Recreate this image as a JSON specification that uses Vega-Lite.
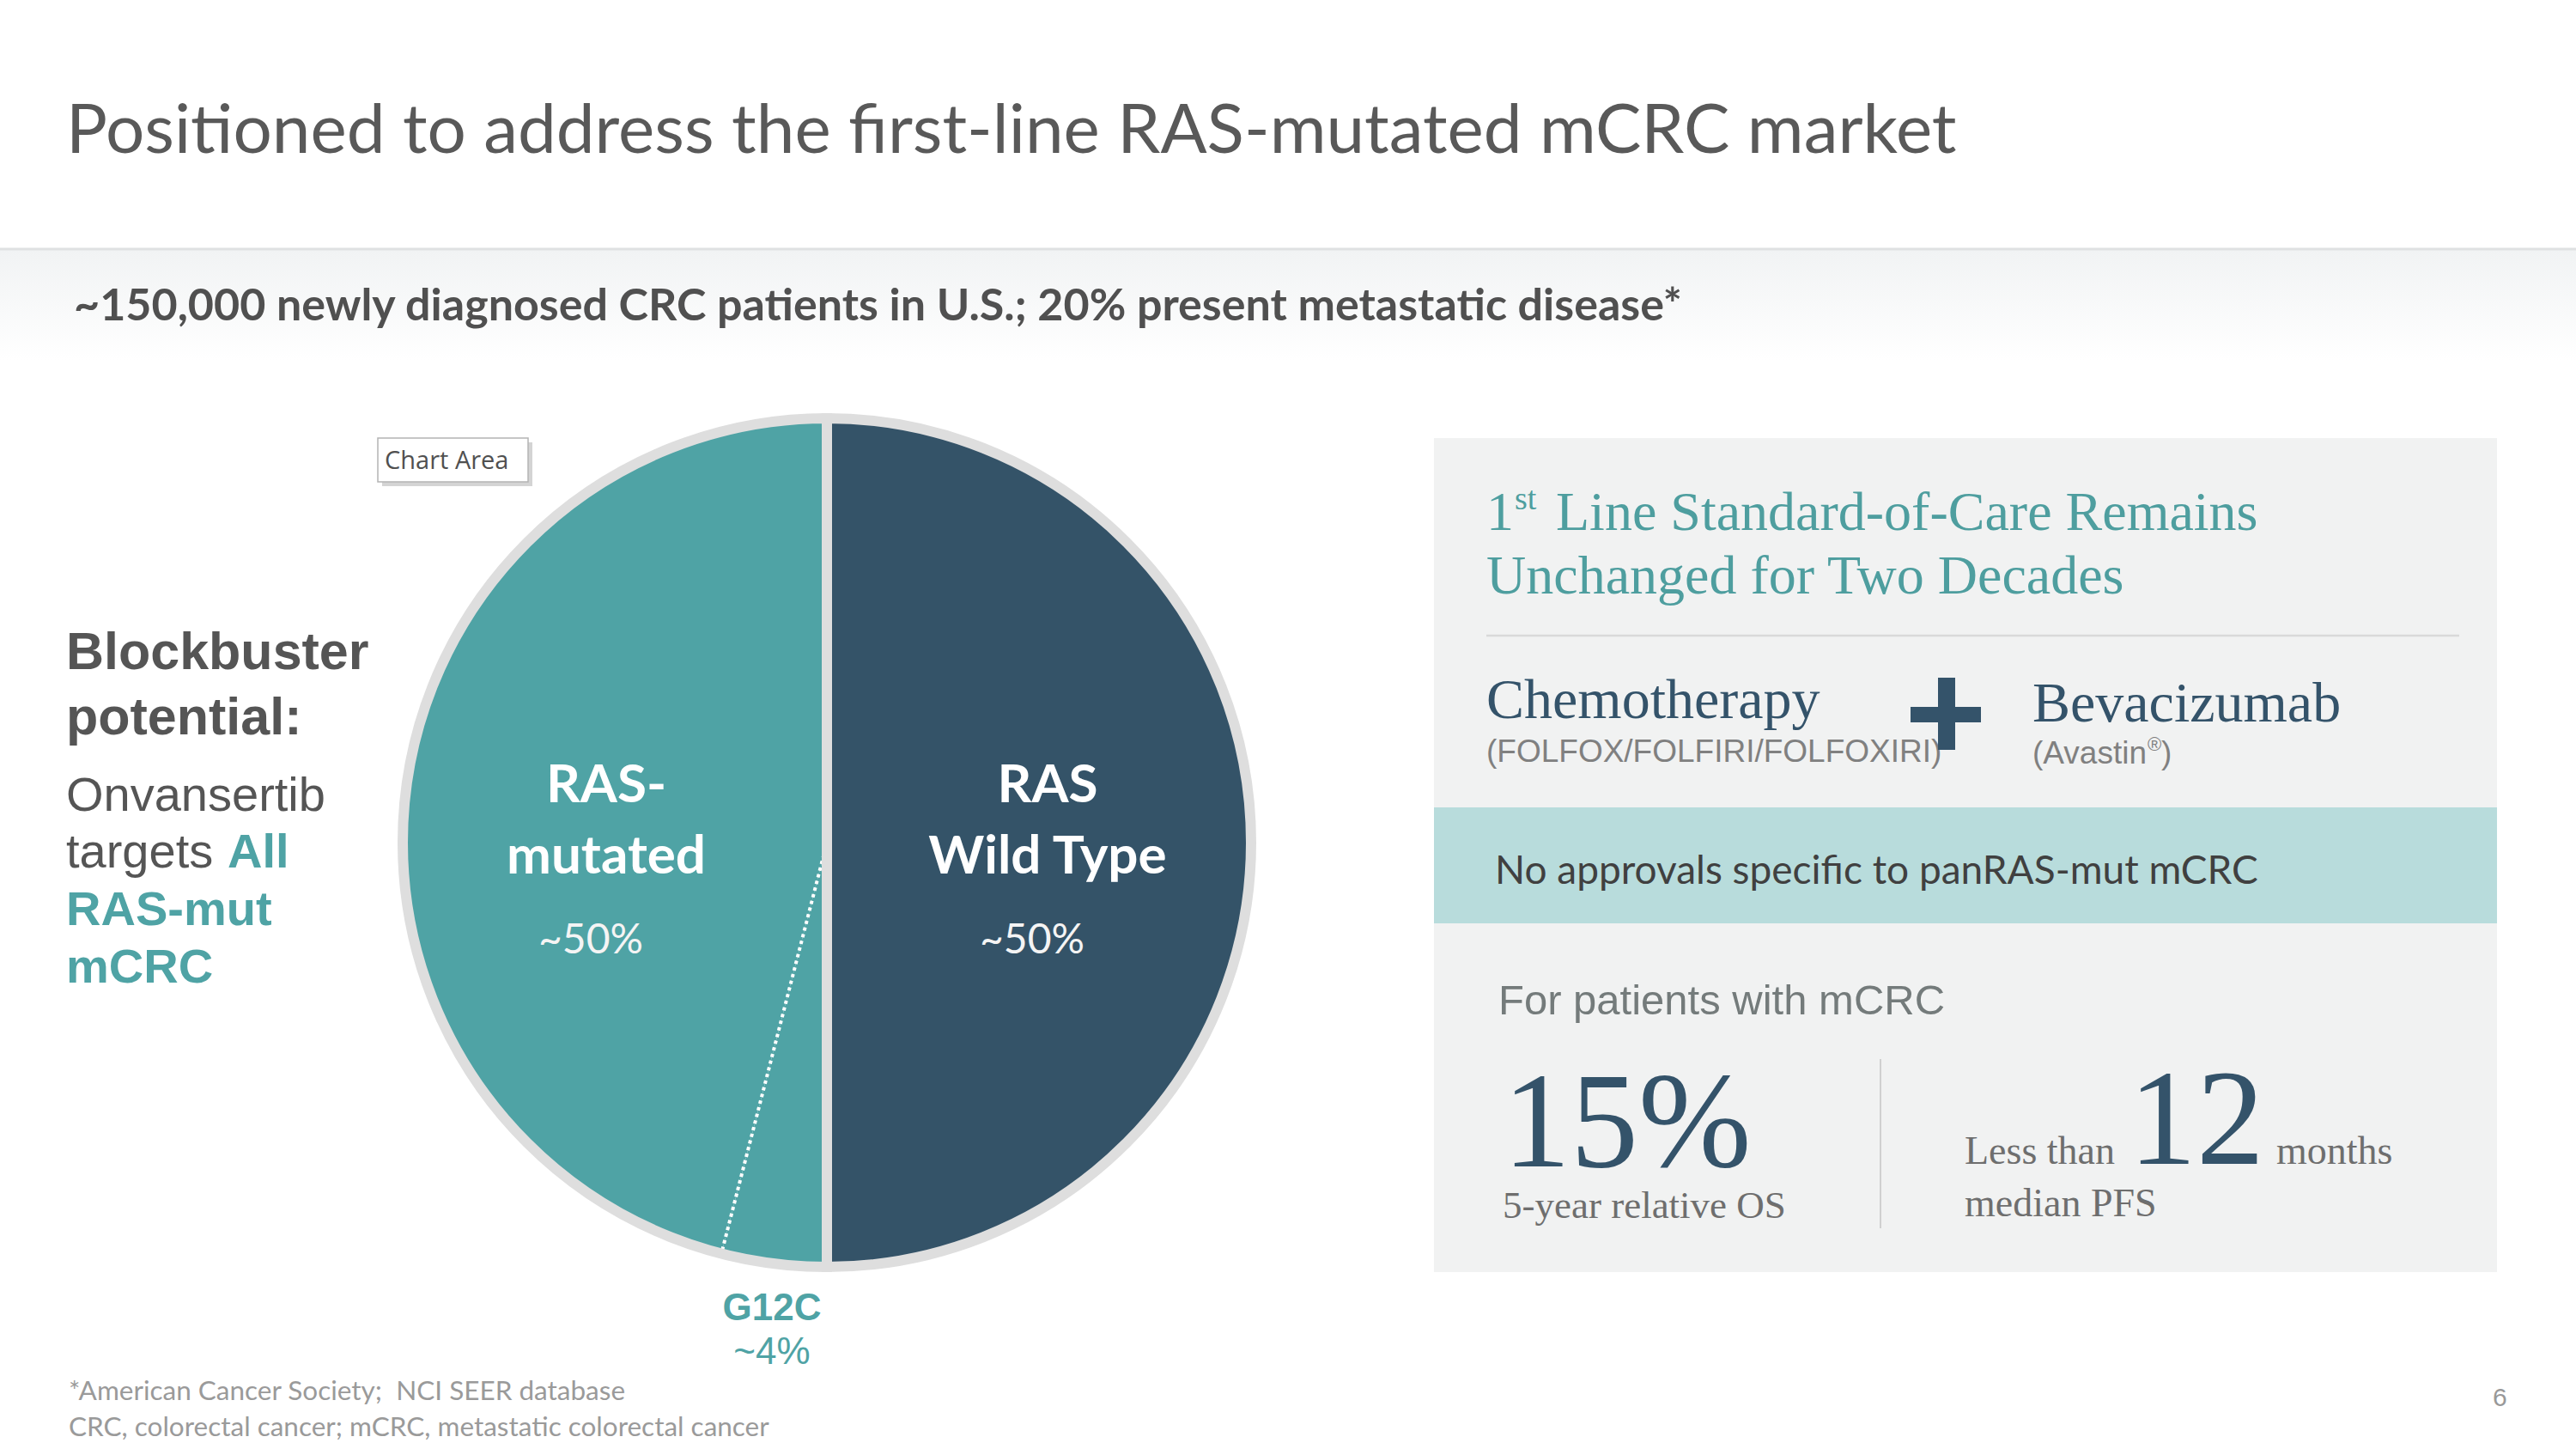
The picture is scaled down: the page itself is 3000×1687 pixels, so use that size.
{
  "$schema": "https://vega.github.io/schema/vega-lite/v6.json",
  "width": 3000,
  "height": 1687,
  "padding": 0,
  "autosize": {"type": "none"},
  "background": "#ffffff",
  "config": {"view": {"stroke": null}},
  "datasets": {
    "ras": [
      {"segment": "RAS Wild Type", "group": "RAS Wild Type", "label": "RAS\nWild Type", "share": 50, "rank": 1},
      {"segment": "G12C", "group": "RAS-mutated", "label": "RAS-\nmutated", "share": 4, "rank": 2},
      {"segment": "Other RAS-mutated", "group": "RAS-mutated", "label": "RAS-\nmutated", "share": 46, "rank": 3}
    ]
  },
  "data": {"name": "ras"},
  "layer": [
    {
      "data": {"values": [{}]},
      "mark": {"type": "rect", "fill": {"gradient": "linear", "x1": 0, "y1": 0, "x2": 0, "y2": 1, "stops": [{"offset": 0, "color": "#f1f3f4"}, {"offset": 1, "color": "#ffffff"}]}},
      "encoding": {
        "x": {"datum": 0, "type": "quantitative", "scale": {"domain": [0, 3000], "nice": false, "zero": false}, "axis": null},
        "x2": {"datum": 3000},
        "y": {"datum": 291, "type": "quantitative", "scale": {"domain": [0, 1687], "nice": false, "zero": false, "reverse": true}, "axis": null},
        "y2": {"datum": 420}
      }
    },
    {
      "data": {"values": [{}]},
      "mark": {"type": "rule", "stroke": "#dfe1e2", "strokeWidth": 3},
      "encoding": {
        "x": {"datum": 0, "type": "quantitative", "scale": {"domain": [0, 3000], "nice": false, "zero": false}, "axis": null},
        "x2": {"datum": 3000},
        "y": {"datum": 290, "type": "quantitative", "scale": {"domain": [0, 1687], "nice": false, "zero": false, "reverse": true}, "axis": null},
        "y2": {"datum": 290}
      }
    },
    {
      "data": {"values": [{}]},
      "mark": {"type": "text", "text": "Positioned to address the first-line RAS-mutated mCRC market", "font": "Lato", "fontSize": 80, "fill": "#595959", "align": "left", "baseline": "alphabetic"},
      "encoding": {
        "x": {"datum": 77, "type": "quantitative", "scale": {"domain": [0, 3000], "nice": false, "zero": false}, "axis": null},
        "y": {"datum": 178, "type": "quantitative", "scale": {"domain": [0, 1687], "nice": false, "zero": false, "reverse": true}, "axis": null}
      }
    },
    {
      "data": {"values": [{}]},
      "mark": {"type": "text", "text": "~150,000 newly diagnosed CRC patients in U.S.; 20% present metastatic disease*", "font": "Lato", "fontWeight": "bold", "fontSize": 52, "fill": "#505050", "align": "left", "baseline": "alphabetic"},
      "encoding": {
        "x": {"datum": 86, "type": "quantitative", "scale": {"domain": [0, 3000], "nice": false, "zero": false}, "axis": null},
        "y": {"datum": 373, "type": "quantitative", "scale": {"domain": [0, 1687], "nice": false, "zero": false, "reverse": true}, "axis": null}
      }
    },
    {
      "data": {"values": [{}]},
      "mark": {"type": "text", "text": "Blockbuster", "font": "Liberation Sans", "fontWeight": "bold", "fontSize": 61, "fill": "#555555", "align": "left", "baseline": "alphabetic"},
      "encoding": {
        "x": {"datum": 77, "type": "quantitative", "scale": {"domain": [0, 3000], "nice": false, "zero": false}, "axis": null},
        "y": {"datum": 779, "type": "quantitative", "scale": {"domain": [0, 1687], "nice": false, "zero": false, "reverse": true}, "axis": null}
      }
    },
    {
      "data": {"values": [{}]},
      "mark": {"type": "text", "text": "potential:", "font": "Liberation Sans", "fontWeight": "bold", "fontSize": 61, "fill": "#555555", "align": "left", "baseline": "alphabetic"},
      "encoding": {
        "x": {"datum": 77, "type": "quantitative", "scale": {"domain": [0, 3000], "nice": false, "zero": false}, "axis": null},
        "y": {"datum": 855, "type": "quantitative", "scale": {"domain": [0, 1687], "nice": false, "zero": false, "reverse": true}, "axis": null}
      }
    },
    {
      "data": {"values": [{}]},
      "mark": {"type": "text", "text": "Onvansertib", "font": "Liberation Sans", "fontSize": 56, "fill": "#555555", "align": "left", "baseline": "alphabetic"},
      "encoding": {
        "x": {"datum": 77, "type": "quantitative", "scale": {"domain": [0, 3000], "nice": false, "zero": false}, "axis": null},
        "y": {"datum": 944, "type": "quantitative", "scale": {"domain": [0, 1687], "nice": false, "zero": false, "reverse": true}, "axis": null}
      }
    },
    {
      "data": {"values": [{}]},
      "mark": {"type": "text", "text": "targets", "font": "Liberation Sans", "fontSize": 56, "fill": "#555555", "align": "left", "baseline": "alphabetic"},
      "encoding": {
        "x": {"datum": 77, "type": "quantitative", "scale": {"domain": [0, 3000], "nice": false, "zero": false}, "axis": null},
        "y": {"datum": 1010, "type": "quantitative", "scale": {"domain": [0, 1687], "nice": false, "zero": false, "reverse": true}, "axis": null}
      }
    },
    {
      "data": {"values": [{}]},
      "mark": {"type": "text", "text": "All", "font": "Liberation Sans", "fontWeight": "bold", "fontSize": 56, "fill": "#4fa3a5", "align": "left", "baseline": "alphabetic"},
      "encoding": {
        "x": {"datum": 265, "type": "quantitative", "scale": {"domain": [0, 3000], "nice": false, "zero": false}, "axis": null},
        "y": {"datum": 1010, "type": "quantitative", "scale": {"domain": [0, 1687], "nice": false, "zero": false, "reverse": true}, "axis": null}
      }
    },
    {
      "data": {"values": [{}]},
      "mark": {"type": "text", "text": "RAS-mut", "font": "Liberation Sans", "fontWeight": "bold", "fontSize": 56, "fill": "#4fa3a5", "align": "left", "baseline": "alphabetic"},
      "encoding": {
        "x": {"datum": 77, "type": "quantitative", "scale": {"domain": [0, 3000], "nice": false, "zero": false}, "axis": null},
        "y": {"datum": 1077, "type": "quantitative", "scale": {"domain": [0, 1687], "nice": false, "zero": false, "reverse": true}, "axis": null}
      }
    },
    {
      "data": {"values": [{}]},
      "mark": {"type": "text", "text": "mCRC", "font": "Liberation Sans", "fontWeight": "bold", "fontSize": 56, "fill": "#4fa3a5", "align": "left", "baseline": "alphabetic"},
      "encoding": {
        "x": {"datum": 77, "type": "quantitative", "scale": {"domain": [0, 3000], "nice": false, "zero": false}, "axis": null},
        "y": {"datum": 1144, "type": "quantitative", "scale": {"domain": [0, 1687], "nice": false, "zero": false, "reverse": true}, "axis": null}
      }
    },
    {
      "data": {"values": [{}]},
      "mark": {"type": "rect", "fill": "#c9c9c9", "opacity": 0.8},
      "encoding": {
        "x": {"datum": 445, "type": "quantitative", "scale": {"domain": [0, 3000], "nice": false, "zero": false}, "axis": null},
        "x2": {"datum": 620},
        "y": {"datum": 515, "type": "quantitative", "scale": {"domain": [0, 1687], "nice": false, "zero": false, "reverse": true}, "axis": null},
        "y2": {"datum": 566}
      }
    },
    {
      "data": {"values": [{}]},
      "mark": {"type": "rect", "fill": "#ffffff", "stroke": "#b4b4b4", "strokeWidth": 1.5},
      "encoding": {
        "x": {"datum": 440, "type": "quantitative", "scale": {"domain": [0, 3000], "nice": false, "zero": false}, "axis": null},
        "x2": {"datum": 615},
        "y": {"datum": 510, "type": "quantitative", "scale": {"domain": [0, 1687], "nice": false, "zero": false, "reverse": true}, "axis": null},
        "y2": {"datum": 561}
      }
    },
    {
      "data": {"values": [{}]},
      "mark": {"type": "text", "text": "Chart Area", "font": "Open Sans", "fontSize": 29, "fill": "#505050", "align": "left", "baseline": "alphabetic"},
      "encoding": {
        "x": {"datum": 448, "type": "quantitative", "scale": {"domain": [0, 3000], "nice": false, "zero": false}, "axis": null},
        "y": {"datum": 546, "type": "quantitative", "scale": {"domain": [0, 1687], "nice": false, "zero": false, "reverse": true}, "axis": null}
      }
    },
    {
      "mark": {"type": "arc", "outerRadius": 494},
      "encoding": {
        "x": {"datum": 963, "type": "quantitative", "scale": {"domain": [0, 3000], "nice": false, "zero": false}, "axis": null},
        "y": {"datum": 981, "type": "quantitative", "scale": {"domain": [0, 1687], "nice": false, "zero": false, "reverse": true}, "axis": null},
        "theta": {"field": "share", "type": "quantitative", "stack": true},
        "order": {"field": "rank", "type": "quantitative"},
        "color": {"field": "group", "type": "nominal", "scale": {"domain": ["RAS Wild Type", "RAS-mutated"], "range": ["#345368", "#4fa3a5"]}, "legend": null},
        "detail": {"field": "segment"}
      }
    },
    {
      "mark": {"type": "arc", "outerRadius": 494, "fillOpacity": 0, "stroke": "#ffffff", "strokeWidth": 4, "strokeDash": [4, 4]},
      "encoding": {
        "x": {"datum": 963, "type": "quantitative", "scale": {"domain": [0, 3000], "nice": false, "zero": false}, "axis": null},
        "y": {"datum": 981, "type": "quantitative", "scale": {"domain": [0, 1687], "nice": false, "zero": false, "reverse": true}, "axis": null},
        "theta": {"field": "share", "type": "quantitative", "stack": true},
        "order": {"field": "rank", "type": "quantitative"},
        "detail": {"field": "segment"},
        "strokeOpacity": {"condition": {"test": "datum.segment === 'G12C'", "value": 1}, "value": 0}
      }
    },
    {
      "transform": [{"aggregate": [{"op": "sum", "field": "share", "as": "share"}], "groupby": ["group", "label"]}],
      "mark": {"type": "arc", "outerRadius": 494, "fillOpacity": 0, "stroke": "#dedede", "strokeWidth": 12},
      "encoding": {
        "x": {"datum": 963, "type": "quantitative", "scale": {"domain": [0, 3000], "nice": false, "zero": false}, "axis": null},
        "y": {"datum": 981, "type": "quantitative", "scale": {"domain": [0, 1687], "nice": false, "zero": false, "reverse": true}, "axis": null},
        "theta": {"field": "share", "type": "quantitative", "stack": true},
        "order": {"field": "group", "type": "ordinal"},
        "detail": {"field": "group"}
      }
    },
    {
      "transform": [{"aggregate": [{"op": "sum", "field": "share", "as": "share"}], "groupby": ["group", "label"]}],
      "mark": {"type": "text", "radius": 257, "dy": -66, "font": "Lato", "fontWeight": "bold", "fontSize": 62, "lineHeight": 83, "lineBreak": "\n", "fill": "#ffffff", "align": "center", "baseline": "middle"},
      "encoding": {
        "x": {"datum": 963, "type": "quantitative", "scale": {"domain": [0, 3000], "nice": false, "zero": false}, "axis": null},
        "y": {"datum": 981, "type": "quantitative", "scale": {"domain": [0, 1687], "nice": false, "zero": false, "reverse": true}, "axis": null},
        "theta": {"field": "share", "type": "quantitative", "stack": true},
        "order": {"field": "group", "type": "ordinal"},
        "detail": {"field": "group"},
        "text": {"field": "label", "type": "nominal"}
      }
    },
    {
      "transform": [{"aggregate": [{"op": "sum", "field": "share", "as": "share"}], "groupby": ["group", "label"]}],
      "mark": {"type": "text", "radius": 257, "dy": 115, "dx": -18, "font": "Lato", "fontSize": 48, "fill": "#f4f4f4", "align": "center", "baseline": "middle", "text": {"expr": "'~' + datum.share + '%'"}},
      "encoding": {
        "x": {"datum": 963, "type": "quantitative", "scale": {"domain": [0, 3000], "nice": false, "zero": false}, "axis": null},
        "y": {"datum": 981, "type": "quantitative", "scale": {"domain": [0, 1687], "nice": false, "zero": false, "reverse": true}, "axis": null},
        "theta": {"field": "share", "type": "quantitative", "stack": true},
        "order": {"field": "group", "type": "ordinal"},
        "detail": {"field": "group"}
      }
    },
    {
      "transform": [{"filter": "datum.segment === 'G12C'"}],
      "mark": {"type": "text", "font": "Liberation Sans", "fontWeight": "bold", "fontSize": 44, "fill": "#4fa3a5", "align": "center", "baseline": "alphabetic"},
      "encoding": {
        "x": {"datum": 899, "type": "quantitative", "scale": {"domain": [0, 3000], "nice": false, "zero": false}, "axis": null},
        "y": {"datum": 1537, "type": "quantitative", "scale": {"domain": [0, 1687], "nice": false, "zero": false, "reverse": true}, "axis": null},
        "text": {"field": "segment", "type": "nominal"}
      }
    },
    {
      "transform": [{"filter": "datum.segment === 'G12C'"}],
      "mark": {"type": "text", "font": "Liberation Sans", "fontSize": 44, "fill": "#4fa3a5", "align": "center", "baseline": "alphabetic", "text": {"expr": "'~' + datum.share + '%'"}},
      "encoding": {
        "x": {"datum": 899, "type": "quantitative", "scale": {"domain": [0, 3000], "nice": false, "zero": false}, "axis": null},
        "y": {"datum": 1588, "type": "quantitative", "scale": {"domain": [0, 1687], "nice": false, "zero": false, "reverse": true}, "axis": null}
      }
    },
    {
      "data": {"values": [{}]},
      "mark": {"type": "rect", "fill": "#f1f2f2"},
      "encoding": {
        "x": {"datum": 1670, "type": "quantitative", "scale": {"domain": [0, 3000], "nice": false, "zero": false}, "axis": null},
        "x2": {"datum": 2908},
        "y": {"datum": 510, "type": "quantitative", "scale": {"domain": [0, 1687], "nice": false, "zero": false, "reverse": true}, "axis": null},
        "y2": {"datum": 1481}
      }
    },
    {
      "data": {"values": [{}]},
      "mark": {"type": "rect", "fill": "#b8dcdc"},
      "encoding": {
        "x": {"datum": 1670, "type": "quantitative", "scale": {"domain": [0, 3000], "nice": false, "zero": false}, "axis": null},
        "x2": {"datum": 2908},
        "y": {"datum": 940, "type": "quantitative", "scale": {"domain": [0, 1687], "nice": false, "zero": false, "reverse": true}, "axis": null},
        "y2": {"datum": 1075}
      }
    },
    {
      "data": {"values": [{}]},
      "mark": {"type": "text", "text": "1", "font": "Liberation Serif", "fontSize": 64, "fill": "#4e9e9f", "align": "left", "baseline": "alphabetic"},
      "encoding": {
        "x": {"datum": 1731, "type": "quantitative", "scale": {"domain": [0, 3000], "nice": false, "zero": false}, "axis": null},
        "y": {"datum": 617, "type": "quantitative", "scale": {"domain": [0, 1687], "nice": false, "zero": false, "reverse": true}, "axis": null}
      }
    },
    {
      "data": {"values": [{}]},
      "mark": {"type": "text", "text": "st", "font": "Liberation Serif", "fontSize": 38, "fill": "#4e9e9f", "align": "left", "baseline": "alphabetic"},
      "encoding": {
        "x": {"datum": 1764, "type": "quantitative", "scale": {"domain": [0, 3000], "nice": false, "zero": false}, "axis": null},
        "y": {"datum": 593, "type": "quantitative", "scale": {"domain": [0, 1687], "nice": false, "zero": false, "reverse": true}, "axis": null}
      }
    },
    {
      "data": {"values": [{}]},
      "mark": {"type": "text", "text": "Line Standard-of-Care Remains", "font": "Liberation Serif", "fontSize": 64, "fill": "#4e9e9f", "align": "left", "baseline": "alphabetic"},
      "encoding": {
        "x": {"datum": 1812, "type": "quantitative", "scale": {"domain": [0, 3000], "nice": false, "zero": false}, "axis": null},
        "y": {"datum": 617, "type": "quantitative", "scale": {"domain": [0, 1687], "nice": false, "zero": false, "reverse": true}, "axis": null}
      }
    },
    {
      "data": {"values": [{}]},
      "mark": {"type": "text", "text": "Unchanged for Two Decades", "font": "Liberation Serif", "fontSize": 64, "fill": "#4e9e9f", "align": "left", "baseline": "alphabetic"},
      "encoding": {
        "x": {"datum": 1731, "type": "quantitative", "scale": {"domain": [0, 3000], "nice": false, "zero": false}, "axis": null},
        "y": {"datum": 691, "type": "quantitative", "scale": {"domain": [0, 1687], "nice": false, "zero": false, "reverse": true}, "axis": null}
      }
    },
    {
      "data": {"values": [{}]},
      "mark": {"type": "rule", "stroke": "#d9d9d9", "strokeWidth": 2.5},
      "encoding": {
        "x": {"datum": 1731, "type": "quantitative", "scale": {"domain": [0, 3000], "nice": false, "zero": false}, "axis": null},
        "x2": {"datum": 2864},
        "y": {"datum": 740, "type": "quantitative", "scale": {"domain": [0, 1687], "nice": false, "zero": false, "reverse": true}, "axis": null},
        "y2": {"datum": 740}
      }
    },
    {
      "data": {"values": [{}]},
      "mark": {"type": "text", "text": "Chemotherapy", "font": "Liberation Serif", "fontSize": 66, "fill": "#34536a", "align": "left", "baseline": "alphabetic"},
      "encoding": {
        "x": {"datum": 1731, "type": "quantitative", "scale": {"domain": [0, 3000], "nice": false, "zero": false}, "axis": null},
        "y": {"datum": 836, "type": "quantitative", "scale": {"domain": [0, 1687], "nice": false, "zero": false, "reverse": true}, "axis": null}
      }
    },
    {
      "data": {"values": [{}]},
      "mark": {"type": "text", "text": "(FOLFOX/FOLFIRI/FOLFOXIRI)", "font": "Liberation Sans", "fontSize": 37, "fill": "#808080", "align": "left", "baseline": "alphabetic"},
      "encoding": {
        "x": {"datum": 1731, "type": "quantitative", "scale": {"domain": [0, 3000], "nice": false, "zero": false}, "axis": null},
        "y": {"datum": 887, "type": "quantitative", "scale": {"domain": [0, 1687], "nice": false, "zero": false, "reverse": true}, "axis": null}
      }
    },
    {
      "data": {"values": [{}]},
      "mark": {"type": "rule", "stroke": "#34536a", "strokeWidth": 18, "strokeCap": "butt"},
      "encoding": {
        "x": {"datum": 2225, "type": "quantitative", "scale": {"domain": [0, 3000], "nice": false, "zero": false}, "axis": null},
        "x2": {"datum": 2307},
        "y": {"datum": 832, "type": "quantitative", "scale": {"domain": [0, 1687], "nice": false, "zero": false, "reverse": true}, "axis": null},
        "y2": {"datum": 832}
      }
    },
    {
      "data": {"values": [{}]},
      "mark": {"type": "rule", "stroke": "#34536a", "strokeWidth": 20, "strokeCap": "butt"},
      "encoding": {
        "x": {"datum": 2267, "type": "quantitative", "scale": {"domain": [0, 3000], "nice": false, "zero": false}, "axis": null},
        "x2": {"datum": 2267},
        "y": {"datum": 789, "type": "quantitative", "scale": {"domain": [0, 1687], "nice": false, "zero": false, "reverse": true}, "axis": null},
        "y2": {"datum": 873}
      }
    },
    {
      "data": {"values": [{}]},
      "mark": {"type": "text", "text": "Bevacizumab", "font": "Liberation Serif", "fontSize": 66, "fill": "#34536a", "align": "left", "baseline": "alphabetic"},
      "encoding": {
        "x": {"datum": 2367, "type": "quantitative", "scale": {"domain": [0, 3000], "nice": false, "zero": false}, "axis": null},
        "y": {"datum": 840, "type": "quantitative", "scale": {"domain": [0, 1687], "nice": false, "zero": false, "reverse": true}, "axis": null}
      }
    },
    {
      "data": {"values": [{}]},
      "mark": {"type": "text", "text": "(Avastin", "font": "Liberation Sans", "fontSize": 37, "fill": "#808080", "align": "left", "baseline": "alphabetic"},
      "encoding": {
        "x": {"datum": 2367, "type": "quantitative", "scale": {"domain": [0, 3000], "nice": false, "zero": false}, "axis": null},
        "y": {"datum": 889, "type": "quantitative", "scale": {"domain": [0, 1687], "nice": false, "zero": false, "reverse": true}, "axis": null}
      }
    },
    {
      "data": {"values": [{}]},
      "mark": {"type": "text", "text": "®", "font": "Liberation Sans", "fontSize": 22, "fill": "#808080", "align": "left", "baseline": "alphabetic"},
      "encoding": {
        "x": {"datum": 2501, "type": "quantitative", "scale": {"domain": [0, 3000], "nice": false, "zero": false}, "axis": null},
        "y": {"datum": 874, "type": "quantitative", "scale": {"domain": [0, 1687], "nice": false, "zero": false, "reverse": true}, "axis": null}
      }
    },
    {
      "data": {"values": [{}]},
      "mark": {"type": "text", "text": ")", "font": "Liberation Sans", "fontSize": 37, "fill": "#808080", "align": "left", "baseline": "alphabetic"},
      "encoding": {
        "x": {"datum": 2517, "type": "quantitative", "scale": {"domain": [0, 3000], "nice": false, "zero": false}, "axis": null},
        "y": {"datum": 889, "type": "quantitative", "scale": {"domain": [0, 1687], "nice": false, "zero": false, "reverse": true}, "axis": null}
      }
    },
    {
      "data": {"values": [{}]},
      "mark": {"type": "text", "text": "No approvals specific to panRAS-mut mCRC", "font": "Lato", "fontSize": 46, "fill": "#404040", "align": "left", "baseline": "alphabetic"},
      "encoding": {
        "x": {"datum": 1741, "type": "quantitative", "scale": {"domain": [0, 3000], "nice": false, "zero": false}, "axis": null},
        "y": {"datum": 1029, "type": "quantitative", "scale": {"domain": [0, 1687], "nice": false, "zero": false, "reverse": true}, "axis": null}
      }
    },
    {
      "data": {"values": [{}]},
      "mark": {"type": "text", "text": "For patients with mCRC", "font": "Liberation Sans", "fontSize": 49, "fill": "#747b7b", "align": "left", "baseline": "alphabetic"},
      "encoding": {
        "x": {"datum": 1745, "type": "quantitative", "scale": {"domain": [0, 3000], "nice": false, "zero": false}, "axis": null},
        "y": {"datum": 1181, "type": "quantitative", "scale": {"domain": [0, 1687], "nice": false, "zero": false, "reverse": true}, "axis": null}
      }
    },
    {
      "data": {"values": [{}]},
      "mark": {"type": "text", "text": "15%", "font": "Liberation Serif", "fontSize": 158, "fill": "#34536a", "align": "left", "baseline": "alphabetic"},
      "encoding": {
        "x": {"datum": 1750, "type": "quantitative", "scale": {"domain": [0, 3000], "nice": false, "zero": false}, "axis": null},
        "y": {"datum": 1358, "type": "quantitative", "scale": {"domain": [0, 1687], "nice": false, "zero": false, "reverse": true}, "axis": null}
      }
    },
    {
      "data": {"values": [{}]},
      "mark": {"type": "text", "text": "5-year relative OS", "font": "Liberation Serif", "fontSize": 45, "fill": "#6e6e6e", "align": "left", "baseline": "alphabetic"},
      "encoding": {
        "x": {"datum": 1750, "type": "quantitative", "scale": {"domain": [0, 3000], "nice": false, "zero": false}, "axis": null},
        "y": {"datum": 1418, "type": "quantitative", "scale": {"domain": [0, 1687], "nice": false, "zero": false, "reverse": true}, "axis": null}
      }
    },
    {
      "data": {"values": [{}]},
      "mark": {"type": "rule", "stroke": "#d0d0d0", "strokeWidth": 2},
      "encoding": {
        "x": {"datum": 2190, "type": "quantitative", "scale": {"domain": [0, 3000], "nice": false, "zero": false}, "axis": null},
        "x2": {"datum": 2190},
        "y": {"datum": 1233, "type": "quantitative", "scale": {"domain": [0, 1687], "nice": false, "zero": false, "reverse": true}, "axis": null},
        "y2": {"datum": 1430}
      }
    },
    {
      "data": {"values": [{}]},
      "mark": {"type": "text", "text": "Less than", "font": "Liberation Serif", "fontSize": 46, "fill": "#6e6e6e", "align": "left", "baseline": "alphabetic"},
      "encoding": {
        "x": {"datum": 2288, "type": "quantitative", "scale": {"domain": [0, 3000], "nice": false, "zero": false}, "axis": null},
        "y": {"datum": 1355, "type": "quantitative", "scale": {"domain": [0, 1687], "nice": false, "zero": false, "reverse": true}, "axis": null}
      }
    },
    {
      "data": {"values": [{}]},
      "mark": {"type": "text", "text": "12", "font": "Liberation Serif", "fontSize": 158, "fill": "#34536a", "align": "left", "baseline": "alphabetic"},
      "encoding": {
        "x": {"datum": 2479, "type": "quantitative", "scale": {"domain": [0, 3000], "nice": false, "zero": false}, "axis": null},
        "y": {"datum": 1355, "type": "quantitative", "scale": {"domain": [0, 1687], "nice": false, "zero": false, "reverse": true}, "axis": null}
      }
    },
    {
      "data": {"values": [{}]},
      "mark": {"type": "text", "text": "months", "font": "Liberation Serif", "fontSize": 46, "fill": "#6e6e6e", "align": "left", "baseline": "alphabetic"},
      "encoding": {
        "x": {"datum": 2651, "type": "quantitative", "scale": {"domain": [0, 3000], "nice": false, "zero": false}, "axis": null},
        "y": {"datum": 1355, "type": "quantitative", "scale": {"domain": [0, 1687], "nice": false, "zero": false, "reverse": true}, "axis": null}
      }
    },
    {
      "data": {"values": [{}]},
      "mark": {"type": "text", "text": "median PFS", "font": "Liberation Serif", "fontSize": 46, "fill": "#6e6e6e", "align": "left", "baseline": "alphabetic"},
      "encoding": {
        "x": {"datum": 2288, "type": "quantitative", "scale": {"domain": [0, 3000], "nice": false, "zero": false}, "axis": null},
        "y": {"datum": 1416, "type": "quantitative", "scale": {"domain": [0, 1687], "nice": false, "zero": false, "reverse": true}, "axis": null}
      }
    },
    {
      "data": {"values": [{}]},
      "mark": {"type": "text", "text": "*American Cancer Society;\u00a0 NCI SEER database", "font": "Lato", "fontSize": 31.5, "fill": "#9a9a9a", "align": "left", "baseline": "alphabetic"},
      "encoding": {
        "x": {"datum": 80, "type": "quantitative", "scale": {"domain": [0, 3000], "nice": false, "zero": false}, "axis": null},
        "y": {"datum": 1630, "type": "quantitative", "scale": {"domain": [0, 1687], "nice": false, "zero": false, "reverse": true}, "axis": null}
      }
    },
    {
      "data": {"values": [{}]},
      "mark": {"type": "text", "text": "CRC, colorectal cancer; mCRC, metastatic colorectal cancer", "font": "Lato", "fontSize": 31.5, "fill": "#9a9a9a", "align": "left", "baseline": "alphabetic"},
      "encoding": {
        "x": {"datum": 80, "type": "quantitative", "scale": {"domain": [0, 3000], "nice": false, "zero": false}, "axis": null},
        "y": {"datum": 1672, "type": "quantitative", "scale": {"domain": [0, 1687], "nice": false, "zero": false, "reverse": true}, "axis": null}
      }
    },
    {
      "data": {"values": [{}]},
      "mark": {"type": "text", "text": "6", "font": "Liberation Sans", "fontSize": 30, "fill": "#999999", "align": "left", "baseline": "alphabetic"},
      "encoding": {
        "x": {"datum": 2903, "type": "quantitative", "scale": {"domain": [0, 3000], "nice": false, "zero": false}, "axis": null},
        "y": {"datum": 1637, "type": "quantitative", "scale": {"domain": [0, 1687], "nice": false, "zero": false, "reverse": true}, "axis": null}
      }
    }
  ]
}
